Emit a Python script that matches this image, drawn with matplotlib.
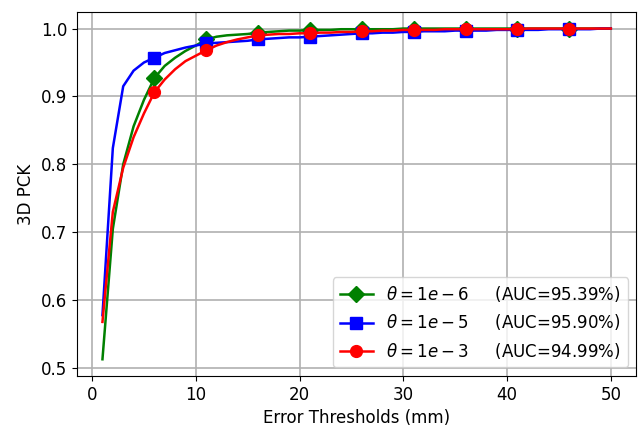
import matplotlib
matplotlib.use('Agg')
import matplotlib.pyplot as plt
import numpy as np

thresholds = list(range(1, 51))

pck_1e6 = [0.513, 0.705, 0.800, 0.856, 0.895, 0.927, 0.945, 0.957, 0.967, 0.975,
           0.984, 0.988, 0.990, 0.991, 0.992, 0.994, 0.995, 0.996, 0.997, 0.997,
           0.998, 0.998, 0.998, 0.999, 0.999, 0.999, 0.999, 0.999, 0.999, 1.000,
           1.000, 1.000, 1.000, 1.000, 1.000, 1.000, 1.000, 1.000, 1.000, 1.000,
           1.000, 1.000, 1.000, 1.000, 1.000, 1.000, 1.000, 1.000, 1.000, 1.000]
pck_1e5 = [0.578, 0.824, 0.915, 0.938, 0.950, 0.957, 0.964, 0.968, 0.972, 0.975,
           0.978, 0.979, 0.980, 0.981, 0.982, 0.984, 0.985, 0.986, 0.987, 0.987,
           0.988, 0.989, 0.990, 0.991, 0.992, 0.993, 0.993, 0.994, 0.994, 0.995,
           0.995, 0.996, 0.996, 0.996, 0.997, 0.997, 0.997, 0.997, 0.998, 0.998,
           0.998, 0.998, 0.998, 0.999, 0.999, 0.999, 0.999, 0.999, 1.000, 1.000]
pck_1e3 = [0.568, 0.730, 0.795, 0.840, 0.875, 0.906, 0.925, 0.940, 0.952, 0.960,
           0.968, 0.975, 0.980, 0.984, 0.987, 0.990, 0.991, 0.992, 0.992, 0.993,
           0.993, 0.994, 0.994, 0.995, 0.995, 0.996, 0.996, 0.997, 0.997, 0.998,
           0.998, 0.998, 0.998, 0.999, 0.999, 0.999, 0.999, 0.999, 0.999, 0.999,
           0.999, 1.000, 1.000, 1.000, 1.000, 1.000, 1.000, 1.000, 1.000, 1.000]

labels = [r'$\theta=1e-6$     (AUC=95.39%)',
          r'$\theta=1e-5$     (AUC=95.90%)',
          r'$\theta=1e-3$     (AUC=94.99%)']

plt.rcParams['font.size'] = 12

fig, ax = plt.subplots(figsize=(6.42, 4.29), dpi=100)
ax.plot(thresholds, pck_1e6, color='green', marker='D', markersize=8.5, markevery=(5, 5), linewidth=1.8, label=labels[0])
ax.plot(thresholds, pck_1e5, color='blue', marker='s', markersize=8.5, markevery=(5, 5), linewidth=1.8, label=labels[1])
ax.plot(thresholds, pck_1e3, color='red', marker='o', markersize=8.5, markevery=(5, 5), linewidth=1.8, label=labels[2])

ax.set_xlabel('Error Thresholds (mm)')
ax.set_ylabel('3D PCK')
ax.set_xticks([0, 10, 20, 30, 40, 50])
ax.set_yticks([0.5, 0.6, 0.7, 0.8, 0.9, 1.0])
ax.grid(True, color='#b0b0b0', linewidth=1.2)
ax.legend(loc='lower right')
fig.subplots_adjust(left=0.12, right=0.991, top=0.972, bottom=0.124)
fig.savefig('out.png', dpi=100)
